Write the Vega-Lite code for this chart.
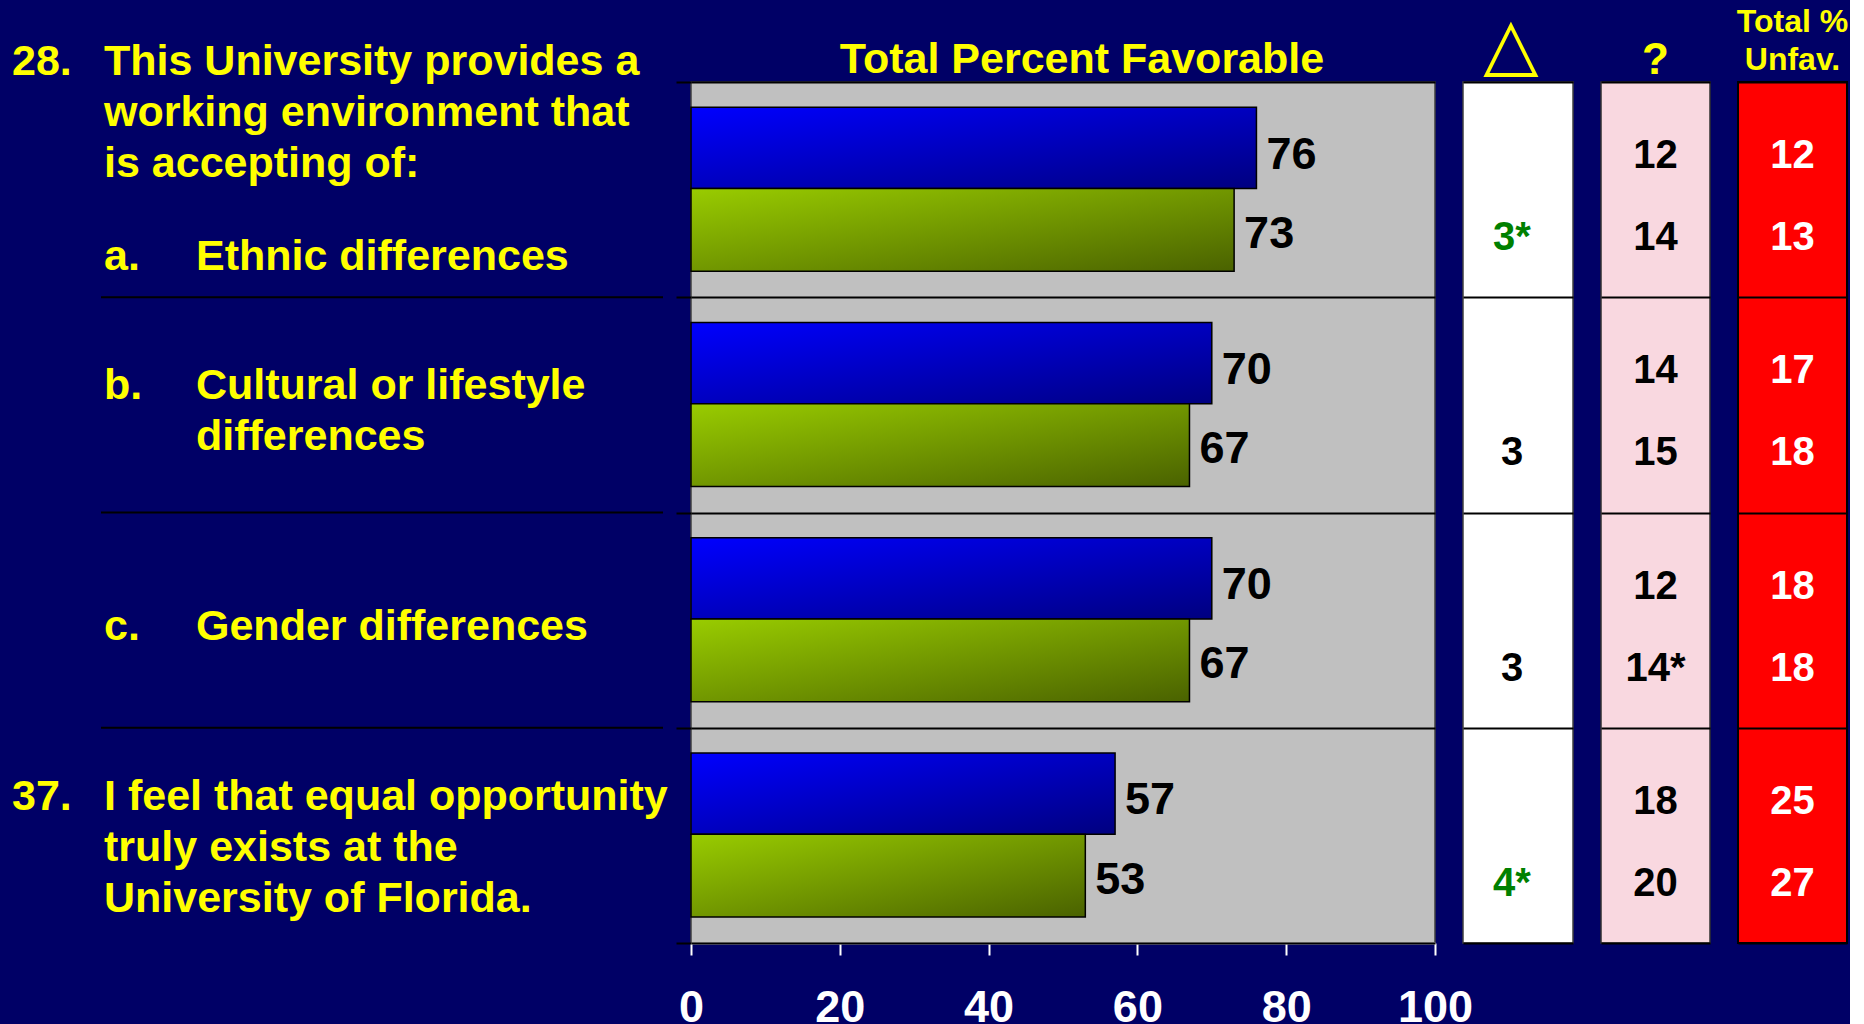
{
  "$schema": "https://vega.github.io/schema/vega-lite/v6.json",
  "background": "#000066",
  "padding": {"left": 12, "top": 5, "right": 0, "bottom": 0},
  "spacing": 28,
  "bounds": "flush",
  "config": {
    "font": "Liberation Sans",
    "text": {"font": "Liberation Sans", "fontWeight": "bold"},
    "title": {"font": "Liberation Sans"}
  },
  "datasets": {
    "survey": [
      {"item": "a", "series": "Current", "favorable": 76, "unsure": "12", "unfavorable": 12},
      {"item": "a", "series": "Previous", "favorable": 73, "unsure": "14", "unfavorable": 13, "change": "3*", "significant": "yes"},
      {"item": "b", "series": "Current", "favorable": 70, "unsure": "14", "unfavorable": 17},
      {"item": "b", "series": "Previous", "favorable": 67, "unsure": "15", "unfavorable": 18, "change": "3", "significant": "no"},
      {"item": "c", "series": "Current", "favorable": 70, "unsure": "12", "unfavorable": 18},
      {"item": "c", "series": "Previous", "favorable": 67, "unsure": "14*", "unfavorable": 18, "change": "3", "significant": "no"},
      {"item": "d", "series": "Current", "favorable": 57, "unsure": "18", "unfavorable": 25},
      {"item": "d", "series": "Previous", "favorable": 53, "unsure": "20", "unfavorable": 27, "change": "4*", "significant": "yes"}
    ],
    "labels": [
      {"item": "a", "slot": "header", "col": "num", "text": "28."},
      {"item": "a", "slot": "header", "col": "lead", "text": "This University provides a\nworking environment that\nis accepting of:"},
      {"item": "a", "slot": "item", "col": "lead", "text": "a."},
      {"item": "a", "slot": "item", "col": "item", "text": "Ethnic differences"},
      {"item": "b", "slot": "double", "col": "lead", "text": "b."},
      {"item": "b", "slot": "double", "col": "item", "text": "Cultural or lifestyle\ndifferences"},
      {"item": "c", "slot": "single", "col": "lead", "text": "c."},
      {"item": "c", "slot": "single", "col": "item", "text": "Gender differences"},
      {"item": "d", "slot": "triple", "col": "num", "text": "37."},
      {"item": "d", "slot": "triple", "col": "lead", "text": "I feel that equal opportunity\n\u00a0truly exists at the\n\u00a0University of Florida."}
    ]
  },
  "hconcat": [
    {
      "width": 562,
      "height": 861,
      "view": {"stroke": null},
      "data": {"name": "labels"},
      "layer": [
        {
          "transform": [{"filter": "datum.col == 'lead' && datum.item != 'a'"}],
          "mark": {"type": "rule", "color": "black", "strokeWidth": 2},
          "encoding": {
            "y": {"field": "item", "type": "nominal", "bandPosition": 0, "scale": {"domain": ["a", "b", "c", "d"], "paddingInner": 0, "paddingOuter": 0}, "axis": null}
          }
        },
        {
          "transform": [{"filter": "datum.slot == 'header'"}],
          "mark": {"type": "text", "align": "left", "baseline": "middle", "lineBreak": "\n", "lineHeight": 51, "fontSize": 43, "color": "#FFFF00", "dy": -20},
          "encoding": {
            "x": {"field": "col", "type": "nominal", "scale": {"type": "point", "domain": ["num", "lead", "item"], "range": [-89, 95], "padding": 0}, "axis": null},
            "y": {"field": "item", "type": "nominal", "bandPosition": 0, "scale": {"domain": ["a", "b", "c", "d"], "paddingInner": 0, "paddingOuter": 0}, "axis": null},
            "text": {"field": "text"}
          }
        },
        {
          "transform": [{"filter": "datum.slot == 'item'"}],
          "mark": {"type": "text", "align": "left", "baseline": "middle", "lineBreak": "\n", "lineHeight": 51, "fontSize": 43, "color": "#FFFF00"},
          "encoding": {
            "x": {"field": "col", "type": "nominal", "scale": {"type": "point", "domain": ["num", "lead", "item"], "range": [-89, 95], "padding": 0}, "axis": null},
            "y": {"field": "item", "type": "nominal", "bandPosition": 0.813, "scale": {"domain": ["a", "b", "c", "d"], "paddingInner": 0, "paddingOuter": 0}, "axis": null},
            "text": {"field": "text"}
          }
        },
        {
          "transform": [{"filter": "datum.slot == 'double'"}],
          "mark": {"type": "text", "align": "left", "baseline": "middle", "lineBreak": "\n", "lineHeight": 51, "fontSize": 43, "color": "#FFFF00"},
          "encoding": {
            "x": {"field": "col", "type": "nominal", "scale": {"type": "point", "domain": ["num", "lead", "item"], "range": [-89, 95], "padding": 0}, "axis": null},
            "y": {"field": "item", "type": "nominal", "bandPosition": 0.412, "scale": {"domain": ["a", "b", "c", "d"], "paddingInner": 0, "paddingOuter": 0}, "axis": null},
            "text": {"field": "text"}
          }
        },
        {
          "transform": [{"filter": "datum.slot == 'single'"}],
          "mark": {"type": "text", "align": "left", "baseline": "middle", "lineBreak": "\n", "lineHeight": 51, "fontSize": 43, "color": "#FFFF00"},
          "encoding": {
            "x": {"field": "col", "type": "nominal", "scale": {"type": "point", "domain": ["num", "lead", "item"], "range": [-89, 95], "padding": 0}, "axis": null},
            "y": {"field": "item", "type": "nominal", "bandPosition": 0.532, "scale": {"domain": ["a", "b", "c", "d"], "paddingInner": 0, "paddingOuter": 0}, "axis": null},
            "text": {"field": "text"}
          }
        },
        {
          "transform": [{"filter": "datum.slot == 'triple'"}],
          "mark": {"type": "text", "align": "left", "baseline": "middle", "lineBreak": "\n", "lineHeight": 51, "fontSize": 43, "color": "#FFFF00"},
          "encoding": {
            "x": {"field": "col", "type": "nominal", "scale": {"type": "point", "domain": ["num", "lead", "item"], "range": [-89, 95], "padding": 0}, "axis": null},
            "y": {"field": "item", "type": "nominal", "bandPosition": 0.322, "scale": {"domain": ["a", "b", "c", "d"], "paddingInner": 0, "paddingOuter": 0}, "axis": null},
            "text": {"field": "text"}
          }
        }
      ]
    },
    {
      "width": 744,
      "height": 861,
      "view": {"fill": "#C0C0C0", "stroke": "#404040", "strokeWidth": 1.5},
      "title": {"text": "Total Percent Favorable", "color": "#FFFF00", "fontSize": 43, "fontWeight": "bold", "baseline": "alphabetic", "offset": -35, "frame": "group", "anchor": "middle", "dx": 19},
      "data": {"name": "survey"},
      "layer": [
        {
          "transform": [{"filter": "datum.series == 'Current'"}],
          "mark": {"type": "rect", "stroke": "black", "strokeWidth": 1.5,
                   "fill": {"gradient": "linear", "x1": 0, "y1": 0, "x2": 1, "y2": 1, "stops": [{"offset": 0, "color": "#0000FF"}, {"offset": 1, "color": "#000080"}]}},
          "encoding": {
            "x": {"field": "favorable", "type": "quantitative", "scale": {"domain": [0, 100]},
                  "axis": {"values": [0, 20, 40, 60, 80, 100], "title": null, "grid": false, "labelColor": "white", "labelFontSize": 45, "labelFontWeight": "bold", "labelFont": "Liberation Sans", "labelPadding": 30, "labelFlush": false, "tickColor": "white", "tickSize": 12, "tickWidth": 2, "domainColor": "white", "domainWidth": 2}},
            "x2": {"datum": 0},
            "y": {"field": "item", "type": "nominal", "bandPosition": 0.117, "scale": {"domain": ["a", "b", "c", "d"], "paddingInner": 0, "paddingOuter": 0},
                  "axis": {"title": null, "labels": false, "domain": false, "ticks": true, "tickBand": "extent", "tickColor": "black", "tickSize": 15, "tickWidth": 2, "grid": true, "gridColor": "black", "gridWidth": 2}},
            "y2": {"field": "item", "bandPosition": 0.495}
          }
        },
        {
          "transform": [{"filter": "datum.series == 'Previous'"}],
          "mark": {"type": "rect", "stroke": "black", "strokeWidth": 1.5,
                   "fill": {"gradient": "linear", "x1": 0, "y1": 0, "x2": 1, "y2": 1, "stops": [{"offset": 0, "color": "#99CC00"}, {"offset": 1, "color": "#4A6200"}]}},
          "encoding": {
            "x": {"field": "favorable", "type": "quantitative", "scale": {"domain": [0, 100]},
                  "axis": {"values": [0, 20, 40, 60, 80, 100], "title": null, "grid": false, "labelColor": "white", "labelFontSize": 45, "labelFontWeight": "bold", "labelFont": "Liberation Sans", "labelPadding": 30, "labelFlush": false, "tickColor": "white", "tickSize": 12, "tickWidth": 2, "domainColor": "white", "domainWidth": 2}},
            "x2": {"datum": 0},
            "y": {"field": "item", "type": "nominal", "bandPosition": 0.495, "scale": {"domain": ["a", "b", "c", "d"], "paddingInner": 0, "paddingOuter": 0},
                  "axis": {"title": null, "labels": false, "domain": false, "ticks": true, "tickBand": "extent", "tickColor": "black", "tickSize": 15, "tickWidth": 2, "grid": true, "gridColor": "black", "gridWidth": 2}},
            "y2": {"field": "item", "bandPosition": 0.879}
          }
        },
        {
          "transform": [{"filter": "datum.series == 'Current'"}],
          "mark": {"type": "text", "align": "left", "baseline": "middle", "dx": 10, "fontSize": 45, "color": "black"},
          "encoding": {
            "x": {"field": "favorable", "type": "quantitative", "scale": {"domain": [0, 100]},
                  "axis": {"values": [0, 20, 40, 60, 80, 100], "title": null, "grid": false, "labelColor": "white", "labelFontSize": 45, "labelFontWeight": "bold", "labelFont": "Liberation Sans", "labelPadding": 30, "labelFlush": false, "tickColor": "white", "tickSize": 12, "tickWidth": 2, "domainColor": "white", "domainWidth": 2}},
            "y": {"field": "item", "type": "nominal", "bandPosition": 0.337, "scale": {"domain": ["a", "b", "c", "d"], "paddingInner": 0, "paddingOuter": 0},
                  "axis": {"title": null, "labels": false, "domain": false, "ticks": true, "tickBand": "extent", "tickColor": "black", "tickSize": 15, "tickWidth": 2, "grid": true, "gridColor": "black", "gridWidth": 2}},
            "text": {"field": "favorable", "type": "quantitative"}
          }
        },
        {
          "transform": [{"filter": "datum.series == 'Previous'"}],
          "mark": {"type": "text", "align": "left", "baseline": "middle", "dx": 10, "fontSize": 45, "color": "black"},
          "encoding": {
            "x": {"field": "favorable", "type": "quantitative", "scale": {"domain": [0, 100]},
                  "axis": {"values": [0, 20, 40, 60, 80, 100], "title": null, "grid": false, "labelColor": "white", "labelFontSize": 45, "labelFontWeight": "bold", "labelFont": "Liberation Sans", "labelPadding": 30, "labelFlush": false, "tickColor": "white", "tickSize": 12, "tickWidth": 2, "domainColor": "white", "domainWidth": 2}},
            "y": {"field": "item", "type": "nominal", "bandPosition": 0.706, "scale": {"domain": ["a", "b", "c", "d"], "paddingInner": 0, "paddingOuter": 0},
                  "axis": {"title": null, "labels": false, "domain": false, "ticks": true, "tickBand": "extent", "tickColor": "black", "tickSize": 15, "tickWidth": 2, "grid": true, "gridColor": "black", "gridWidth": 2}},
            "text": {"field": "favorable", "type": "quantitative"}
          }
        }
      ]
    },
    {
      "width": 110,
      "height": 861,
      "view": {"fill": "#FFFFFF", "stroke": "#404040", "strokeWidth": 1.5},
      "title": {"text": "△", "color": "#FFFF00", "font": "DejaVu Sans", "fontSize": 72, "fontWeight": "normal", "baseline": "alphabetic", "offset": -58, "frame": "group", "anchor": "middle", "dx": -7},
      "data": {"name": "survey"},
      "transform": [{"filter": "datum.change != null"}],
      "mark": {"type": "text", "baseline": "middle", "dx": -6, "fontSize": 40},
      "encoding": {
        "y": {"field": "item", "type": "nominal", "bandPosition": 0.725, "scale": {"domain": ["a", "b", "c", "d"], "paddingInner": 0, "paddingOuter": 0},
              "axis": {"title": null, "labels": false, "ticks": false, "domain": false, "grid": true, "gridColor": "black", "gridWidth": 2, "tickBand": "extent"}},
        "text": {"field": "change"},
        "color": {"field": "significant", "type": "nominal", "scale": {"domain": ["yes", "no"], "range": ["#008000", "#000000"]}, "legend": null}
      }
    },
    {
      "width": 109,
      "height": 861,
      "view": {"fill": "#F9D8E0", "stroke": "#303030", "strokeWidth": 1.5},
      "title": {"text": "?", "color": "#FFFF00", "fontSize": 44, "fontWeight": "bold", "baseline": "alphabetic", "offset": -36, "frame": "group", "anchor": "middle"},
      "data": {"name": "survey"},
      "layer": [
        {
          "transform": [{"filter": "datum.series == 'Current'"}],
          "mark": {"type": "text", "baseline": "middle", "fontSize": 40, "color": "black"},
          "encoding": {
            "y": {"field": "item", "type": "nominal", "bandPosition": 0.344, "scale": {"domain": ["a", "b", "c", "d"], "paddingInner": 0, "paddingOuter": 0},
                  "axis": {"title": null, "labels": false, "ticks": false, "domain": false, "grid": true, "gridColor": "black", "gridWidth": 2, "tickBand": "extent"}},
            "text": {"field": "unsure"}
          }
        },
        {
          "transform": [{"filter": "datum.series == 'Previous'"}],
          "mark": {"type": "text", "baseline": "middle", "fontSize": 40, "color": "black"},
          "encoding": {
            "y": {"field": "item", "type": "nominal", "bandPosition": 0.725, "scale": {"domain": ["a", "b", "c", "d"], "paddingInner": 0, "paddingOuter": 0},
                  "axis": {"title": null, "labels": false, "ticks": false, "domain": false, "grid": true, "gridColor": "black", "gridWidth": 2, "tickBand": "extent"}},
            "text": {"field": "unsure"}
          }
        }
      ]
    },
    {
      "width": 109,
      "height": 861,
      "view": {"fill": "#FF0000", "stroke": "#000000", "strokeWidth": 2},
      "title": {"text": ["Total %", "Unfav."], "color": "#FFFF00", "fontSize": 32, "fontWeight": "bold", "lineHeight": 38, "baseline": "alphabetic", "offset": -20, "frame": "group", "anchor": "middle"},
      "data": {"name": "survey"},
      "layer": [
        {
          "transform": [{"filter": "datum.series == 'Current'"}],
          "mark": {"type": "text", "baseline": "middle", "fontSize": 40, "color": "white"},
          "encoding": {
            "y": {"field": "item", "type": "nominal", "bandPosition": 0.344, "scale": {"domain": ["a", "b", "c", "d"], "paddingInner": 0, "paddingOuter": 0},
                  "axis": {"title": null, "labels": false, "ticks": false, "domain": false, "grid": true, "gridColor": "black", "gridWidth": 2, "tickBand": "extent"}},
            "text": {"field": "unfavorable", "type": "quantitative"}
          }
        },
        {
          "transform": [{"filter": "datum.series == 'Previous'"}],
          "mark": {"type": "text", "baseline": "middle", "fontSize": 40, "color": "white"},
          "encoding": {
            "y": {"field": "item", "type": "nominal", "bandPosition": 0.725, "scale": {"domain": ["a", "b", "c", "d"], "paddingInner": 0, "paddingOuter": 0},
                  "axis": {"title": null, "labels": false, "ticks": false, "domain": false, "grid": true, "gridColor": "black", "gridWidth": 2, "tickBand": "extent"}},
            "text": {"field": "unfavorable", "type": "quantitative"}
          }
        }
      ]
    }
  ]
}
